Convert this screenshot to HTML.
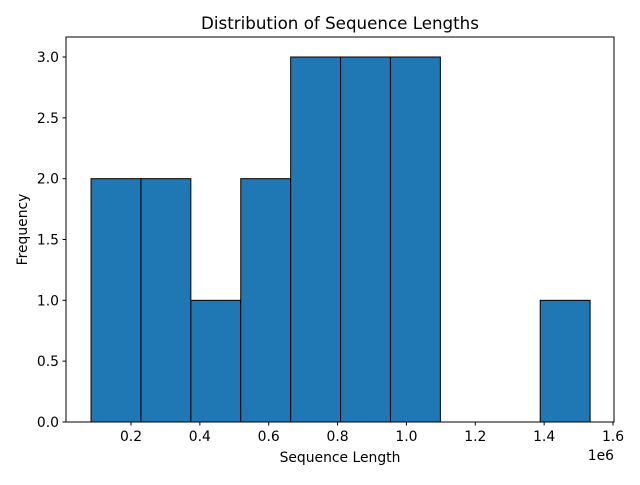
<!DOCTYPE html>
<html><head><meta charset="utf-8"><style>
body{margin:0;background:#fff}
svg text{font-family:"DejaVu Sans","Liberation Sans",sans-serif;fill:#000}
</style></head><body>
<svg id="chart" width="640" height="480" xmlns="http://www.w3.org/2000/svg"></svg>
<script>
const binStart = 0.0839;
const binEnd = 1.5335;
const counts = [2, 2, 1, 2, 3, 3, 3, 0, 0, 1];
const xTicks = [0.2, 0.4, 0.6, 0.8, 1.0, 1.2, 1.4, 1.6];
const xTickLabels = ["0.2", "0.4", "0.6", "0.8", "1.0", "1.2", "1.4", "1.6"];
const yTicks = [0, 0.5, 1, 1.5, 2, 2.5, 3];
const yTickLabels = ["0.0", "0.5", "1.0", "1.5", "2.0", "2.5", "3.0"];

const L = 66, R = 614, T = 37, B = 422;
const xs = v => 131 + (v - 0.2) * (613 - 131) / 1.4;
const ys = v => B - v * (B - 57) / 3;
const svg = document.getElementById('chart');
const NS = "http://www.w3.org/2000/svg";
function mk(tag, attrs, text) {
  const e = document.createElementNS(NS, tag);
  for (const k in attrs) e.setAttribute(k, attrs[k]);
  if (text !== undefined) e.textContent = text;
  svg.appendChild(e);
  return e;
}
const w = (binEnd - binStart) / counts.length;
counts.forEach((c, i) => {
  const x0 = xs(binStart + i * w), x1 = xs(binStart + (i + 1) * w);
  const r = mk('rect', {x: x0, y: ys(c), width: x1 - x0, height: ys(0) - ys(c), fill: '#1f77b4', stroke: '#000', 'stroke-width': 1});
  
  
});
const frame = mk('rect', {x: L, y: T, width: R - L, height: B - T, fill: 'none', stroke: '#000', 'stroke-width': 1});


xTicks.forEach((v, i) => {
  const x = xs(v);
  mk('line', {x1: x, x2: x, y1: B, y2: B + 3.5, stroke: '#000'});
  const t = mk('text', {x: x, y: B + 19, 'font-size': 13.9, 'text-anchor': 'middle'}, xTickLabels[i]);
  
  
});
yTicks.forEach((v, i) => {
  const y = ys(v);
  mk('line', {x1: L - 3.5, x2: L, y1: y, y2: y, stroke: '#000'});
  const t = mk('text', {x: L - 7, y: y + 5, 'font-size': 13.9, 'text-anchor': 'end'}, yTickLabels[i]);
  
  
});
const off = mk('text', {x: R, y: 460, 'font-size': 13.9, 'text-anchor': 'end'}, '1e6');


const xl = mk('text', {x: (L + R) / 2, y: 462, 'font-size': 13.9, 'text-anchor': 'middle'}, 'Sequence Length');


const yl = mk('text', {x: 27, y: (T + B) / 2, 'font-size': 13.9, 'text-anchor': 'middle', transform: 'rotate(-90 27 ' + (T + B) / 2 + ')'}, 'Frequency');


const ti = mk('text', {x: (L + R) / 2, y: 29, 'font-size': 16.7, 'text-anchor': 'middle'}, 'Distribution of Sequence Lengths');


</script>
</body></html>
